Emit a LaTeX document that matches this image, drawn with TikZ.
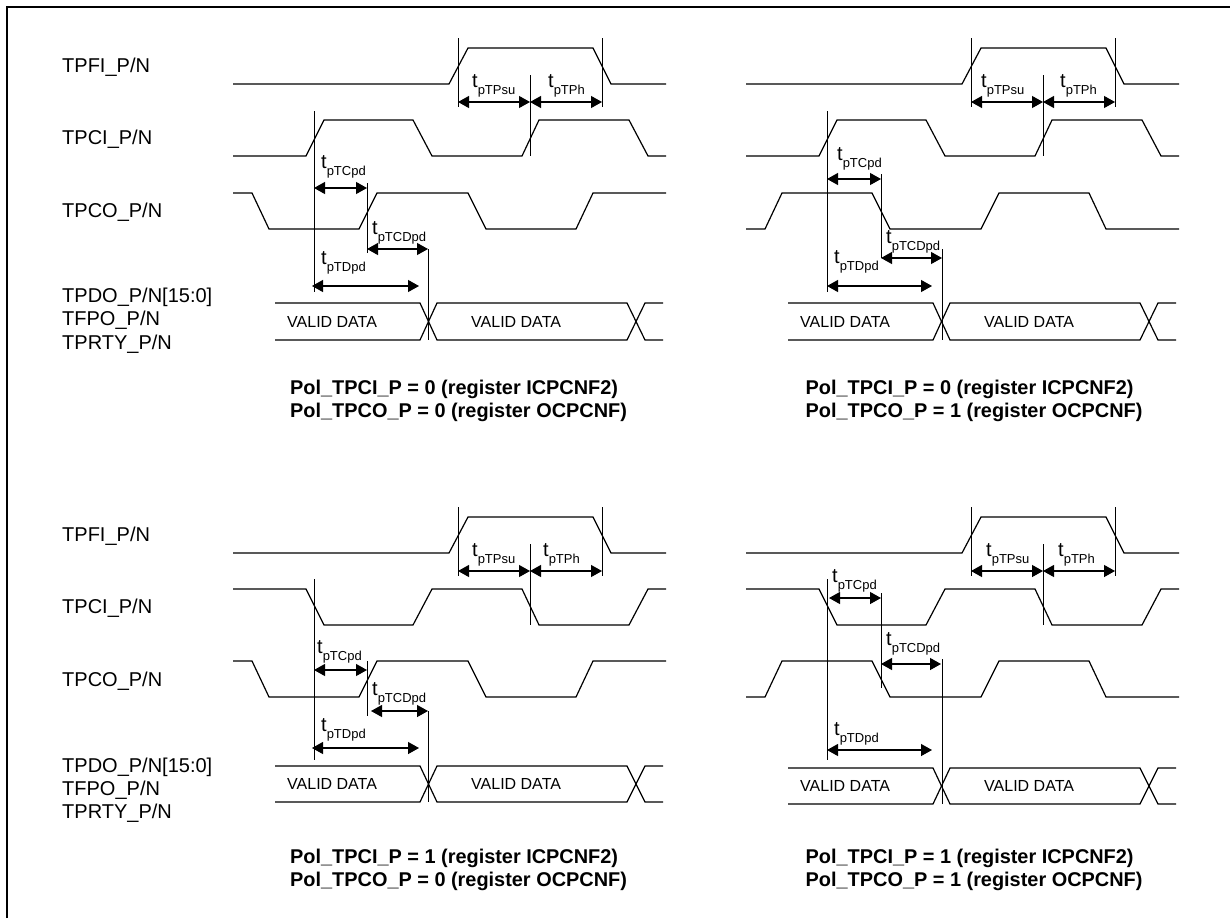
\documentclass[tikz,border=0pt]{standalone}
\usepackage{fontspec}
\setmainfont{Liberation Sans}
\usetikzlibrary{arrows.meta}
\tikzset{
  wave/.style={line width=1.2pt,line join=miter},
  tickline/.style={line width=1pt},
  dimline/.style={{Triangle[length=11pt,width=12pt]}-{Triangle[length=11pt,width=12pt]},line width=1.2pt},
  signame/.style={anchor=base west,inner sep=0pt,font=\fontsize{20}{24}\selectfont},
  datatxt/.style={anchor=west,inner sep=0pt,font=\fontsize{16}{19}\selectfont},
  tlabel/.style={anchor=base west,inner sep=0pt,font=\fontsize{20}{22}\selectfont},
  caption/.style={anchor=base west,inner sep=0pt,font=\fontsize{19.9}{22}\selectfont\bfseries},
}
\newcommand{\tsub}[1]{t\raisebox{-7pt}{\fontsize{13}{15}\selectfont #1}}
% clock, first level #1, second level #2
\newcommand{\ciwave}[2]{\draw[wave] (233,#1) -- (306,#1) -- (324,#2) -- (413,#2) -- (432,#1)
  -- (522,#1) -- (539,#2) -- (629,#2) -- (648,#1) -- (666,#1);}
\newcommand{\cowave}[2]{\draw[wave] (233,#1) -- (252,#1) -- (269,#2) -- (359,#2) -- (377,#1)
  -- (468,#1) -- (486,#2) -- (576,#2) -- (593,#1) -- (666,#1);}
% panel id #1, data top #2, data bottom #3
\newcommand{\datawave}[3]{
  \draw[wave] (275,#2) -- (420,#2) -- (437,#3) -- (627,#3) -- (645,#2) -- (663,#2);
  \draw[wave] (275,#3) -- (420,#3) -- (437,#2) -- (627,#2) -- (645,#3) -- (663,#3);
  \node[datatxt] (va#1) at (287,{(#2+#3)/2}) {VALID DATA};
  \node[datatxt] (vb#1) at (471,{(#2+#3)/2}) {VALID DATA};
}
% the common TPFI part of a panel
\newcommand{\fipart}[3]{
  \draw[wave] (233,84) -- (449,84) -- (468,48) -- (593,48) -- (611,84) -- (666,84);
  \draw[tickline] (458,38) -- (458,107);
  \draw[tickline] (602,38) -- (602,107);
  \draw[tickline] (530,75) -- (530,156);
  \draw[dimline] (458,102) -- (530,102);
  \draw[dimline] (530,102) -- (602,102);
  \node[tlabel] (su#1) at (#2,87) {\tsub{pTPsu}};
  \node[tlabel] (ph#1) at (#3,87) {\tsub{pTPh}};
}

\begin{document}
\begin{tikzpicture}[x=1pt,y=-1pt]
  \useasboundingbox (0,0) rectangle (1230,918);

  \draw[line width=2.3pt] (7,918) -- (7,7) -- (1230,7);

  % signal names
  \foreach \id/\nm/\yy in {a/TPFI\_P\slash N/72,b/TPCI\_P\slash N/144,c/TPCO\_P\slash N/217,
      d/TPDO\_P\slash N[15:0]/302,e/TFPO\_P\slash N/325,f/TPRTY\_P\slash N/349,
      g/TPFI\_P\slash N/541,h/TPCI\_P\slash N/613,i/TPCO\_P\slash N/686,
      j/TPDO\_P\slash N[15:0]/772,k/TFPO\_P\slash N/795,l/TPRTY\_P\slash N/818}
    \node[signame] (\id) at (62,\yy) {\nm};

  % top left
  \fipart{A}{472}{548}
  \ciwave{156}{120}
  \cowave{193}{229}
  \datawave{A}{303}{340}
  \draw[tickline] (314,111) -- (314,292);
  \draw[tickline] (367,183) -- (367,253);
  \draw[tickline] (428,249) -- (428,340);
  \draw[dimline] (314,188) -- (367,188);
  \draw[dimline] (367,249) -- (428,249);
  \draw[dimline] (312,286) -- (419,286);
  \node[tlabel] (cpA) at (321,168) {\tsub{pTCpd}};
  \node[tlabel] (cdA) at (372,234) {\tsub{pTCDpd}};
  \node[tlabel] (dpA) at (321,264) {\tsub{pTDpd}};
  \node[caption] (p1A) at (290,394) {Pol\_TPCI\_P = 0 (register ICPCNF2)};
  \node[caption] (p2A) at (290,417) {Pol\_TPCO\_P = 0 (register OCPCNF)};

  % top right
  \begin{scope}[shift={(513,0)}]
    \fipart{B}{468}{547}
    \ciwave{156}{120}
    \cowave{229}{193}
    \datawave{B}{303}{340}
    \draw[tickline] (314,111) -- (314,292);
    \draw[tickline] (368,174) -- (368,258);
    \draw[tickline] (429,249) -- (429,340);
    \draw[dimline] (314,179) -- (368,179);
    \draw[dimline] (368,258) -- (429,258);
    \draw[dimline] (314,286) -- (419,286);
    \node[tlabel] (cpB) at (324,160) {\tsub{pTCpd}};
    \node[tlabel] (cdB) at (373,243) {\tsub{pTCDpd}};
    \node[tlabel] (dpB) at (321,263) {\tsub{pTDpd}};
    \node[caption] (p1B) at (292.5,394) {Pol\_TPCI\_P = 0 (register ICPCNF2)};
    \node[caption] (p2B) at (292.5,417) {Pol\_TPCO\_P = 1 (register OCPCNF)};
  \end{scope}

  % bottom left
  \begin{scope}[shift={(0,469)}]
    \fipart{C}{472}{543}
    \ciwave{120}{156}
    \cowave{192}{228}
    \datawave{C}{297}{333}
    \draw[tickline] (314,110) -- (314,291);
    \draw[tickline] (367,192) -- (367,247);
    \draw[tickline] (428,242) -- (428,333);
    \draw[dimline] (314,201) -- (367,201);
    \draw[dimline] (371,242) -- (428,242);
    \draw[dimline] (312,279) -- (419,279);
    \node[tlabel] (cpC) at (317,184) {\tsub{pTCpd}};
    \node[tlabel] (cdC) at (372,226) {\tsub{pTCDpd}};
    \node[tlabel] (dpC) at (321,262) {\tsub{pTDpd}};
    \node[caption] (p1C) at (290,394) {Pol\_TPCI\_P = 1 (register ICPCNF2)};
    \node[caption] (p2C) at (290,417) {Pol\_TPCO\_P = 0 (register OCPCNF)};
  \end{scope}

  % bottom right
  \begin{scope}[shift={(513,469)}]
    \fipart{D}{473}{545}
    \ciwave{120}{156}
    \cowave{228}{192}
    \datawave{D}{299}{335}
    \draw[tickline] (314,110) -- (314,291);
    \draw[tickline] (368,124) -- (368,219);
    \draw[tickline] (429,190) -- (429,335);
    \draw[dimline] (316,129) -- (368,129);
    \draw[dimline] (368,195) -- (428,195);
    \draw[dimline] (314,281) -- (419,281);
    \node[tlabel] (cpD) at (319,113) {\tsub{pTCpd}};
    \node[tlabel] (cdD) at (373,176) {\tsub{pTCDpd}};
    \node[tlabel] (dpD) at (321,266) {\tsub{pTDpd}};
    \node[caption] (p1D) at (292.5,394) {Pol\_TPCI\_P = 1 (register ICPCNF2)};
    \node[caption] (p2D) at (292.5,417) {Pol\_TPCO\_P = 1 (register OCPCNF)};
  \end{scope}
\end{tikzpicture}
\end{document}
